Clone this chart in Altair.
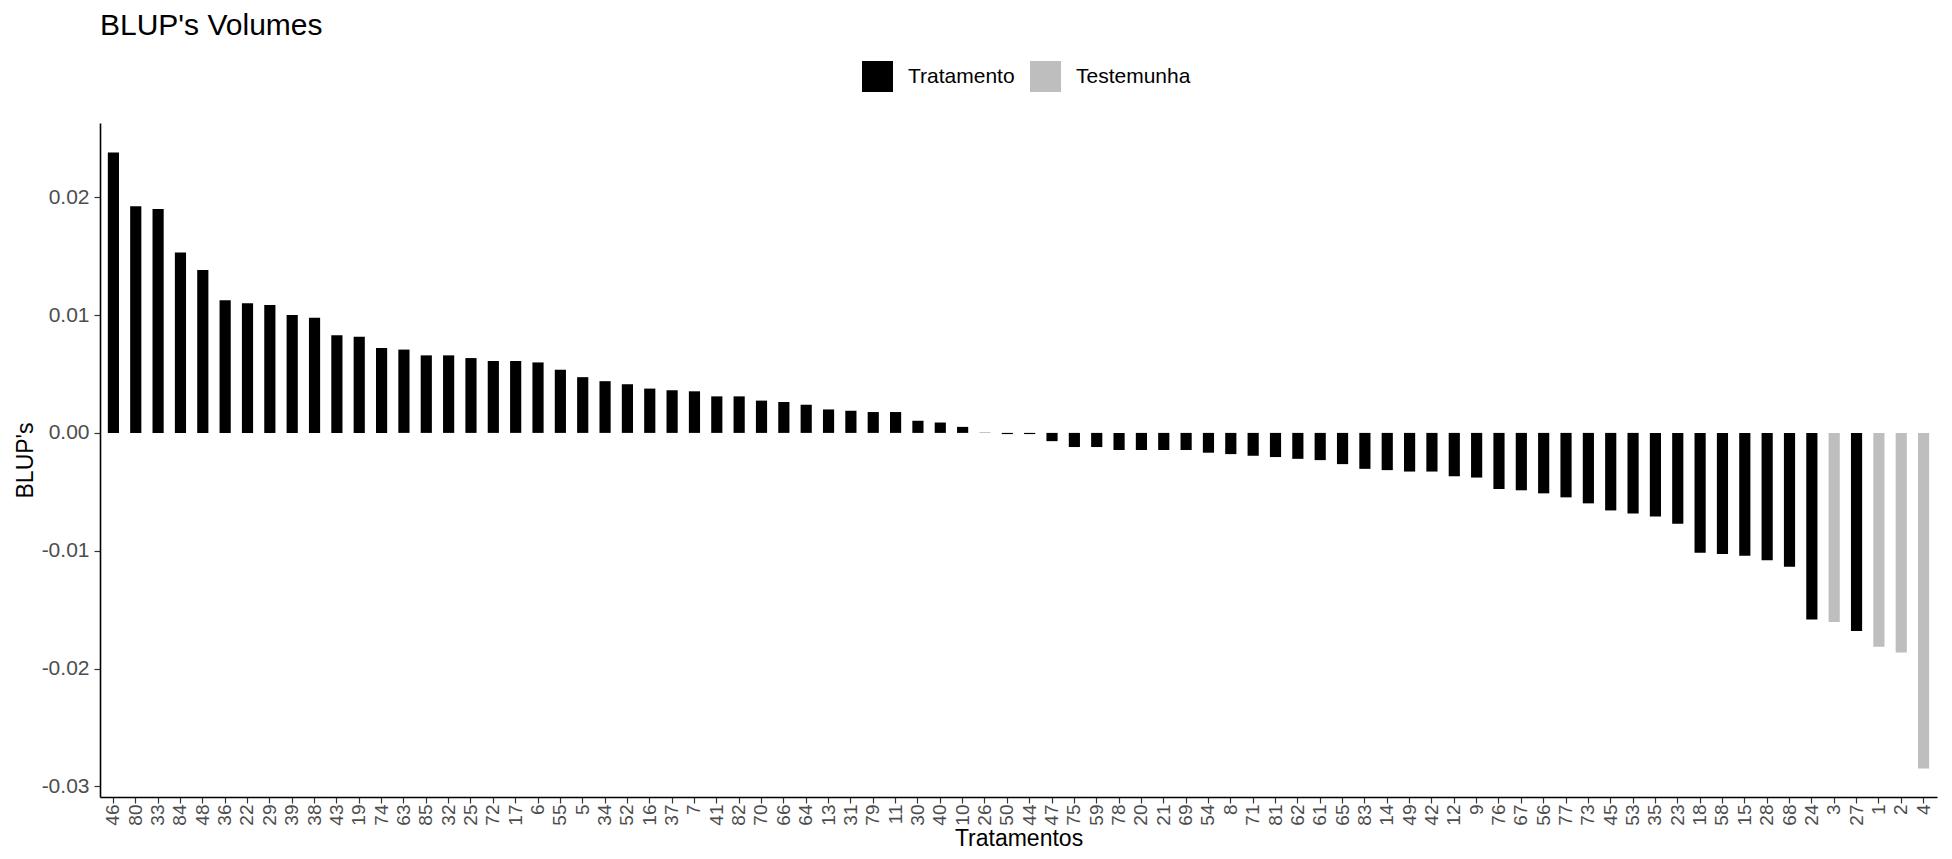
import altair as alt
import pandas as pd

FONT = "Liberation Sans"

tratamentos = ["46", "80", "33", "84", "48", "36", "22", "29", "39", "38", "43", "19", "74", "63",
               "85", "32", "25", "72", "17", "6", "55", "5", "34", "52", "16", "37", "7", "41",
               "82", "70", "66", "64", "13", "31", "79", "11", "30", "40", "10", "26", "50", "44",
               "47", "75", "59", "78", "20", "21", "69", "54", "8", "71", "81", "62", "61", "65",
               "83", "14", "49", "42", "12", "9", "76", "67", "56", "77", "73", "45", "53", "35",
               "23", "18", "58", "15", "28", "68", "24", "3", "27", "1", "2", "4"]

blups = [0.02379, 0.01923, 0.01900, 0.01530, 0.01382, 0.01125, 0.01100, 0.01085, 0.01000, 0.00977,
         0.00829, 0.00815, 0.00721, 0.00707, 0.00658, 0.00658, 0.00635, 0.00610, 0.00610, 0.00598,
         0.00536, 0.00473, 0.00439, 0.00413, 0.00376, 0.00362, 0.00353, 0.00310, 0.00310, 0.00274,
         0.00262, 0.00239, 0.00199, 0.00188, 0.00177, 0.00177, 0.00103, 0.00088, 0.00051, 0.00002,
         -0.00010, -0.00010, -0.00070, -0.00120, -0.00120, -0.00145, -0.00145, -0.00145, -0.00145,
         -0.00168, -0.00180, -0.00194, -0.00205, -0.00220, -0.00231, -0.00265, -0.00305, -0.00316,
         -0.00328, -0.00328, -0.00368, -0.00379, -0.00476, -0.00487, -0.00513, -0.00547, -0.00598,
         -0.00658, -0.00684, -0.00709, -0.00772, -0.01017, -0.01028, -0.01043, -0.01080, -0.01137,
         -0.01584, -0.01604, -0.01681, -0.01815, -0.01863, -0.02849]

testemunhas = ["1", "2", "3", "4"]
grupos = ["Testemunha" if t in testemunhas else "Tratamento" for t in tratamentos]

legend_order = ["Tratamento", "Testemunha"]
legend_colors = ["#000000", "#BEBEBE"]
y_ticks = [-0.03, -0.02, -0.01, 0.0, 0.01, 0.02]

df = pd.DataFrame({"Tratamentos": tratamentos, "BLUP": blups, "Grupo": grupos})

chart = alt.Chart(df).mark_bar().encode(
    x=alt.X("Tratamentos:N", sort=tratamentos,
            scale=alt.Scale(paddingInner=0.5, paddingOuter=0.35),
            axis=alt.Axis(title="Tratamentos", labelAngle=270, labelAlign="right",
                          labelBaseline="middle", labelFontSize=19, labelColor="#4D4D4D",
                          labelFont=FONT, labelPadding=1, tickColor="#333333", tickSize=6,
                          tickWidth=1.2, domainColor="#000000", domainWidth=1.6,
                          titleFont=FONT, titleFontSize=23, titleFontWeight="normal",
                          titleColor="#000000", titleY=41, titleBaseline="middle")),
    y=alt.Y("BLUP:Q",
            scale=alt.Scale(domain=[-0.0309, 0.0263], nice=False, zero=False),
            axis=alt.Axis(title="BLUP's", values=y_ticks,
                          labelExpr="datum.value < 0 ? '-' + format(-datum.value, '.2f') : format(datum.value, '.2f')",
                          labelFontSize=21, labelColor="#4D4D4D", labelFont=FONT, labelPadding=5,
                          tickColor="#333333", tickSize=6, tickWidth=1.2, grid=False,
                          domainColor="#000000", domainWidth=1.6,
                          titleFont=FONT, titleFontSize=23, titleFontWeight="normal",
                          titleColor="#000000", titleX=-75, titleY=337, titleAngle=270,
                          titleAlign="center", titleBaseline="middle")),
    color=alt.Color("Grupo:N",
                    scale=alt.Scale(domain=legend_order, range=legend_colors),
                    legend=alt.Legend(title=None, orient="none", legendX=762, legendY=-62,
                                      direction="horizontal", symbolType="square",
                                      symbolSize=961, symbolStrokeWidth=0, symbolOpacity=1,
                                      labelFontSize=21, labelFont=FONT, labelColor="#000000",
                                      labelOffset=15, columnPadding=15, padding=0)),
).properties(
    width=1837,
    height=674,
    autosize=alt.AutoSizeParams(type="none"),
    padding={"left": 92, "top": 115, "right": 7, "bottom": 54},
    title=alt.Title("BLUP's Volumes", anchor="start", frame="group", fontSize=30,
                    font=FONT, fontWeight="normal", color="#000000", offset=0, dy=4,
                    baseline="alphabetic"),
).configure_view(
    stroke=None
).configure_axis(
    grid=False
)

chart.save("out.html", embed_options={"renderer": "svg", "actions": False})
